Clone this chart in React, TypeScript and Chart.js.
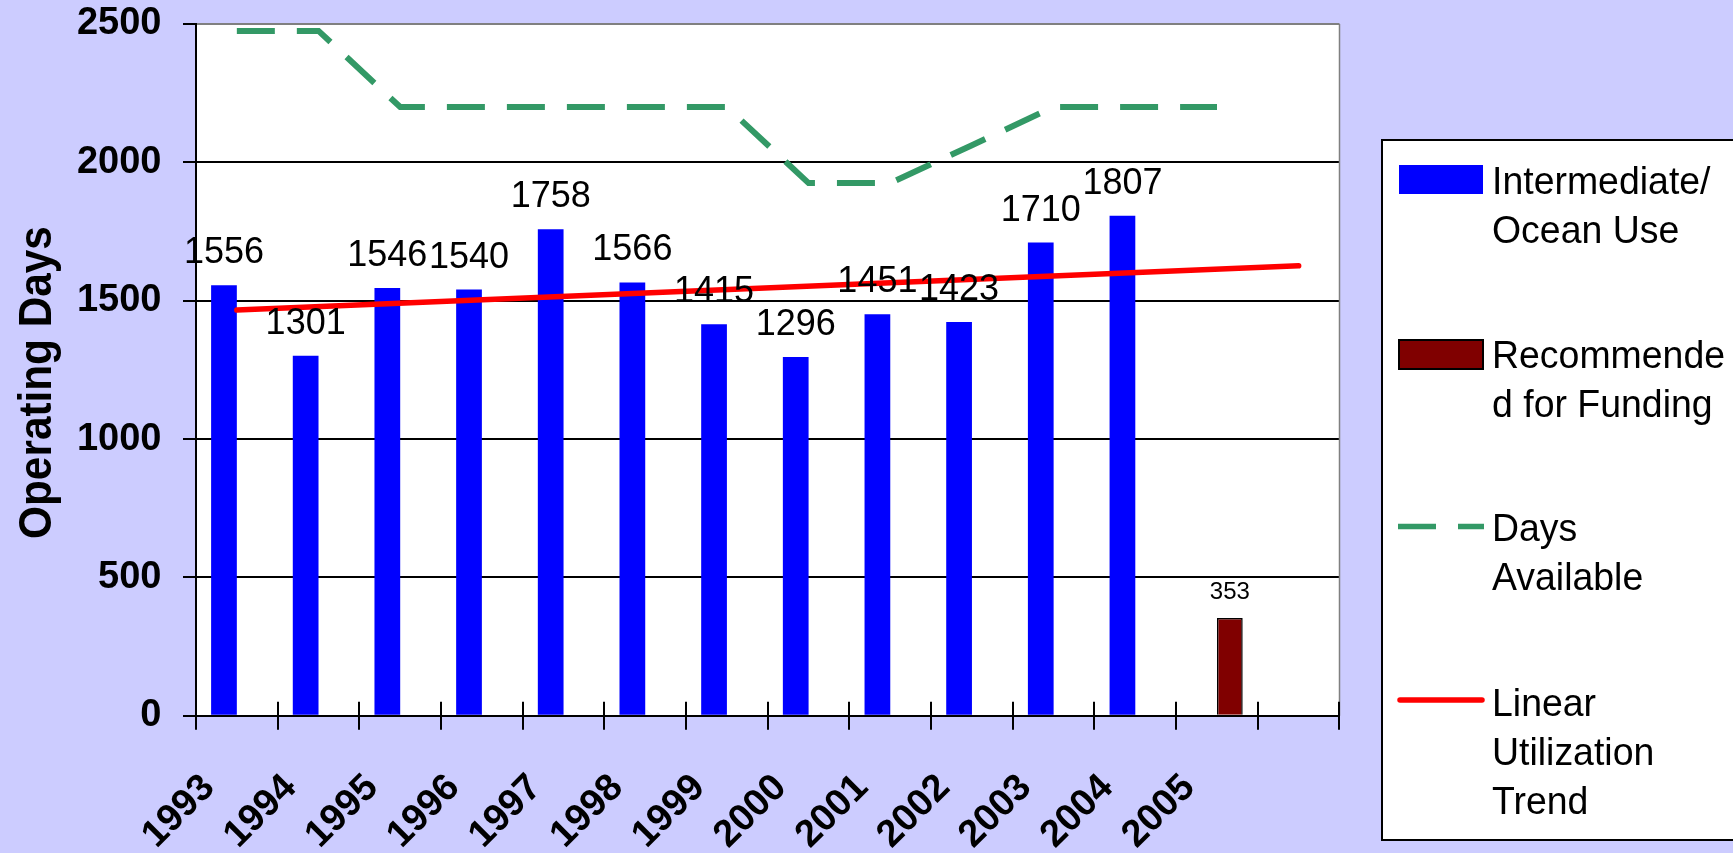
import React, { useEffect, useRef } from "react";
import { Chart, registerables } from "chart.js";

Chart.register(...registerables);

// ---------- data ----------
const categories = ["1993", "1994", "1995", "1996", "1997", "1998", "1999", "2000", "2001", "2002", "2003", "2004", "2005", ""];
const oceanUse = [1556, 1301, 1546, 1540, 1758, 1566, 1415, 1296, 1451, 1423, 1710, 1807, null, null];
const recommended = [null, null, null, null, null, null, null, null, null, null, null, null, 353, null];
const daysAvailable = [2475, 2475, 2200, 2200, 2200, 2200, 2200, 1925, 1925, 2062, 2200, 2200, 2200, null];
const trend = [1466, null, null, null, null, null, null, null, null, null, null, null, null, 1626];
const yTicks = [0, 500, 1000, 1500, 2000, 2500];

const seriesNames = ["Intermediate/Ocean Use", "Recommended for Funding", "Days Available", "Linear Utilization Trend"];
const legendLines = [["Intermediate/", "Ocean Use"], ["Recommende", "d for Funding"], ["Days", "Available"], ["Linear", "Utilization", "Trend"]];
const yTitle = "Operating Days";

const BLUE = "#0000FF";
const BROWN = "#800000";
const GREEN = "#339966";
const RED = "#FF0000";
const BG = "#CCCCFF";
const FONT = "'Liberation Sans', Arial, sans-serif";

function txt(
  ctx: CanvasRenderingContext2D,
  s: string,
  x: number,
  y: number,
  font: string,
  align: CanvasTextAlign,
  baseline: CanvasTextBaseline,
  rot = 0,
  sx = 1
) {
  ctx.save();
  ctx.translate(x, y);
  if (rot) ctx.rotate(rot);
  if (sx !== 1) ctx.scale(sx, 1);
  ctx.font = font;
  ctx.textAlign = align;
  ctx.textBaseline = baseline;
  ctx.fillStyle = "#000";
  ctx.fillText(s, 0, 0);
  ctx.restore();
}

const decor = {
  id: "decor",
  beforeDraw(chart: any) {
    const { ctx, chartArea: a } = chart;
    ctx.save();
    ctx.fillStyle = BG;
    ctx.fillRect(0, 0, chart.width, chart.height);
    ctx.fillStyle = "#FFFFFF";
    ctx.fillRect(a.left, a.top, a.right - a.left, a.bottom - a.top);
    ctx.restore();
  },
  afterDatasetsDraw(chart: any) {
    const ctx = chart.ctx;
    chart.getDatasetMeta(0).data.forEach((el: any, i: number) => {
      const v = oceanUse[i];
      if (v == null) return;
      txt(ctx, String(v), el.x, el.y - 22, `36px ${FONT}`, "center", "alphabetic");
    });
    chart.getDatasetMeta(1).data.forEach((el: any, i: number) => {
      const v = recommended[i];
      if (v == null) return;
      txt(ctx, String(v), el.x, el.y - 19, `24px ${FONT}`, "center", "alphabetic");
    });
  },
  afterDraw(chart: any) {
    const { ctx, chartArea: a } = chart;
    const xs = chart.scales.x;
    const slot = xs.getPixelForValue(1) - xs.getPixelForValue(0);
    const start = xs.getPixelForValue(0) - slot / 2;

    ctx.save();
    // right plot border
    ctx.strokeStyle = "#808080";
    ctx.lineWidth = 1.5;
    ctx.beginPath();
    ctx.moveTo(a.right, a.top);
    ctx.lineTo(a.right, a.bottom);
    ctx.stroke();
    // category tick marks crossing the axis
    ctx.strokeStyle = "#000";
    ctx.lineWidth = 2;
    ctx.beginPath();
    for (let i = 0; i <= categories.length; i++) {
      const bx = Math.round(start + i * slot);
      ctx.moveTo(bx, i === 0 ? a.bottom : a.bottom - 14);
      ctx.lineTo(bx, a.bottom + 14);
    }
    ctx.stroke();
    ctx.restore();

    // rotated category labels
    categories.forEach((c, i) => {
      if (!c) return;
      txt(ctx, c, xs.getPixelForValue(i) - 28, a.bottom + 66, `bold 38px ${FONT}`, "right", "middle", -Math.PI / 4);
    });

    // y axis title
    txt(ctx, yTitle, 51, 382.5, `bold 46px ${FONT}`, "center", "alphabetic", -Math.PI / 2, 0.92);

    // legend
    ctx.save();
    ctx.fillStyle = "#FFFFFF";
    ctx.fillRect(1382, 140, 400, 700);
    ctx.strokeStyle = "#000";
    ctx.lineWidth = 2;
    ctx.strokeRect(1382, 140, 400, 700);

    ctx.fillStyle = BLUE;
    ctx.fillRect(1399, 165, 84, 29);

    ctx.fillStyle = BROWN;
    ctx.fillRect(1399, 340, 84, 29);
    ctx.strokeStyle = "#000";
    ctx.lineWidth = 2;
    ctx.strokeRect(1399, 340, 84, 29);

    ctx.strokeStyle = GREEN;
    ctx.lineWidth = 5.5;
    ctx.setLineDash([38, 22]);
    ctx.beginPath();
    ctx.moveTo(1398, 526.5);
    ctx.lineTo(1484, 526.5);
    ctx.stroke();
    ctx.setLineDash([]);

    ctx.strokeStyle = RED;
    ctx.lineCap = "round";
    ctx.beginPath();
    ctx.moveTo(1400, 700);
    ctx.lineTo(1482, 700);
    ctx.stroke();
    ctx.restore();

    const firstBase = [194, 367.5, 541, 716];
    legendLines.forEach((lines, k) => {
      lines.forEach((line, j) => {
        txt(ctx, line, 1492, firstBase[k] + j * 49, `39px ${FONT}`, "left", "alphabetic", 0, 0.96);
      });
    });
  },
};

export default function App() {
  const ref = useRef<HTMLCanvasElement | null>(null);

  useEffect(() => {
    if (!ref.current) return;
    const chart = new Chart(ref.current, {
      type: "bar",
      data: {
        labels: categories,
        datasets: [
          {
            type: "bar",
            label: seriesNames[0],
            data: oceanUse,
            backgroundColor: BLUE,
            borderWidth: 0,
            categoryPercentage: 0.63,
            barPercentage: 1.0,
            order: 2,
          },
          {
            type: "bar",
            label: seriesNames[1],
            data: recommended,
            backgroundColor: BROWN,
            borderColor: "#000",
            borderWidth: 1.5,
            categoryPercentage: 0.63,
            barPercentage: 1.0,
            order: 2,
          },
          {
            type: "line",
            label: seriesNames[2],
            data: daysAvailable,
            borderColor: GREEN,
            borderWidth: 6,
            borderDash: [38, 22],
            pointRadius: 0,
            tension: 0,
            fill: false,
            order: 1,
          },
          {
            type: "line",
            label: seriesNames[3],
            data: trend,
            borderColor: RED,
            borderWidth: 5.5,
            borderCapStyle: "round",
            spanGaps: true,
            pointRadius: 0,
            tension: 0,
            fill: false,
            order: 1,
          },
        ] as any,
      },
      options: {
        responsive: false,
        animation: false,
        devicePixelRatio: 1,
        layout: { padding: { left: 0, top: 24, right: 393.5, bottom: 137.3 } },
        plugins: {
          legend: { display: false },
          tooltip: { enabled: false },
          title: { display: false },
        },
        scales: {
          x: {
            type: "category",
            display: false,
            offset: true,
            grid: { offset: true },
          },
          y: {
            min: 0,
            max: 2500,
            afterFit: (s: any) => {
              s.width = 196;
              s.paddingTop = 0;
              s.paddingBottom = 0;
            },
            afterBuildTicks: (s: any) => {
              s.ticks = yTicks.map((v) => ({ value: v }));
            },
            ticks: {
              callback: (v: any) => String(v),
              font: { family: FONT, size: 38, weight: "bold" },
              color: "#000",
              padding: 21.5,
            },
            grid: {
              color: (c: any) => (c.tick && c.tick.value === 2500 ? "#808080" : "#000"),
              lineWidth: 2,
              drawTicks: true,
              tickLength: 13,
              tickColor: "#000",
              tickWidth: 2,
            },
            border: { display: true, color: "#000", width: 2 },
          },
        },
      } as any,
      plugins: [decor],
    });
    return () => chart.destroy();
  }, []);

  return (
    <div style={{ position: "fixed", left: 0, top: 0, width: 1733, height: 853, background: BG, overflow: "hidden" }}>
      <canvas ref={ref} width={1733} height={853} style={{ display: "block" }} />
    </div>
  );
}
